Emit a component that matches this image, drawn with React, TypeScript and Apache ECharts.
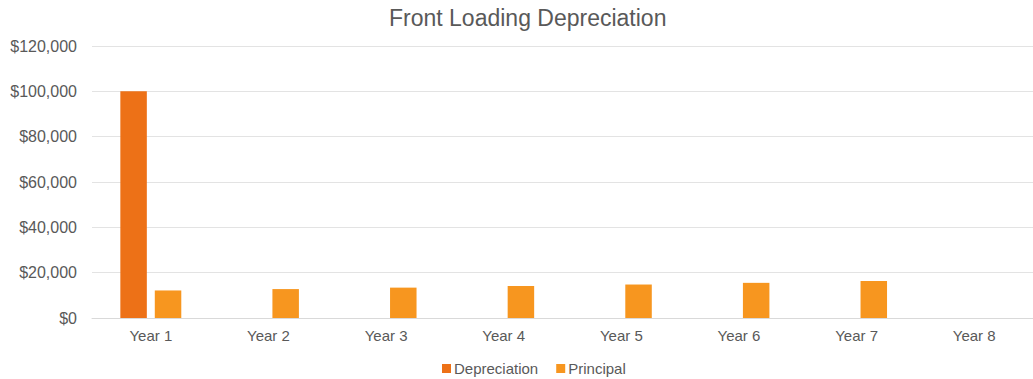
import React, { useEffect, useRef } from "react";
import * as echarts from "echarts";

// Yearly schedule
const categories = ["Year 1", "Year 2", "Year 3", "Year 4", "Year 5", "Year 6", "Year 7", "Year 8"];
const depreciation = [100000, 0, 0, 0, 0, 0, 0, 0];
const principal = [12150, 12760, 13400, 14070, 14770, 15510, 16280, 0];

const FONT = "'Liberation Sans', Arial, sans-serif";
const TEXT = "#595959";

export default function App() {
  const ref = useRef<HTMLDivElement>(null);

  useEffect(() => {
    if (!ref.current) return;
    const chart = echarts.init(ref.current, undefined, { renderer: "svg" });
    chart.setOption({
      animation: false,
      backgroundColor: "#ffffff",
      textStyle: { fontFamily: FONT },
      title: {
        text: "Front Loading Depreciation",
        left: 384,
        top: 1,
        textStyle: { fontFamily: FONT, fontSize: 23, fontWeight: "normal", color: TEXT },
      },
      legend: {
        left: 437,
        top: 356,
        itemWidth: 9,
        itemHeight: 9,
        itemGap: 18,
        icon: "rect",
        textStyle: { fontFamily: FONT, fontSize: 15, color: TEXT, padding: [0, 0, 0, -2] },
        data: ["Depreciation", "Principal"],
      },
      grid: { left: 92, right: -7, top: 46, bottom: 61, containLabel: false },
      xAxis: {
        type: "category",
        data: categories,
        axisTick: { show: false },
        axisLine: { lineStyle: { color: "#d9d9d9", width: 1 } },
        axisLabel: { fontFamily: FONT, fontSize: 15, color: TEXT, margin: 10 },
      },
      yAxis: {
        type: "value",
        min: 0,
        max: 120000,
        interval: 20000,
        axisLine: { show: false },
        axisTick: { show: false },
        splitLine: { lineStyle: { color: "#e3e3e3", width: 1 } },
        axisLabel: {
          fontFamily: FONT,
          fontSize: 16,
          color: TEXT,
          margin: 15,
          formatter: (v: number) => "$" + v.toLocaleString("en-US"),
        },
      },
      series: [
        {
          name: "Depreciation",
          type: "bar",
          data: depreciation,
          barWidth: 26.5,
          barGap: "30%",
          itemStyle: { color: "#ED7117" },
        },
        {
          name: "Principal",
          type: "bar",
          data: principal,
          barWidth: 26.5,
          barGap: "30%",
          itemStyle: { color: "#F7961F" },
        },
      ],
    });
    return () => chart.dispose();
  }, []);

  return (
    <div
      ref={ref}
      style={{ position: "fixed", left: 0, top: 0, width: 1033, height: 379, background: "#fff" }}
    />
  );
}
